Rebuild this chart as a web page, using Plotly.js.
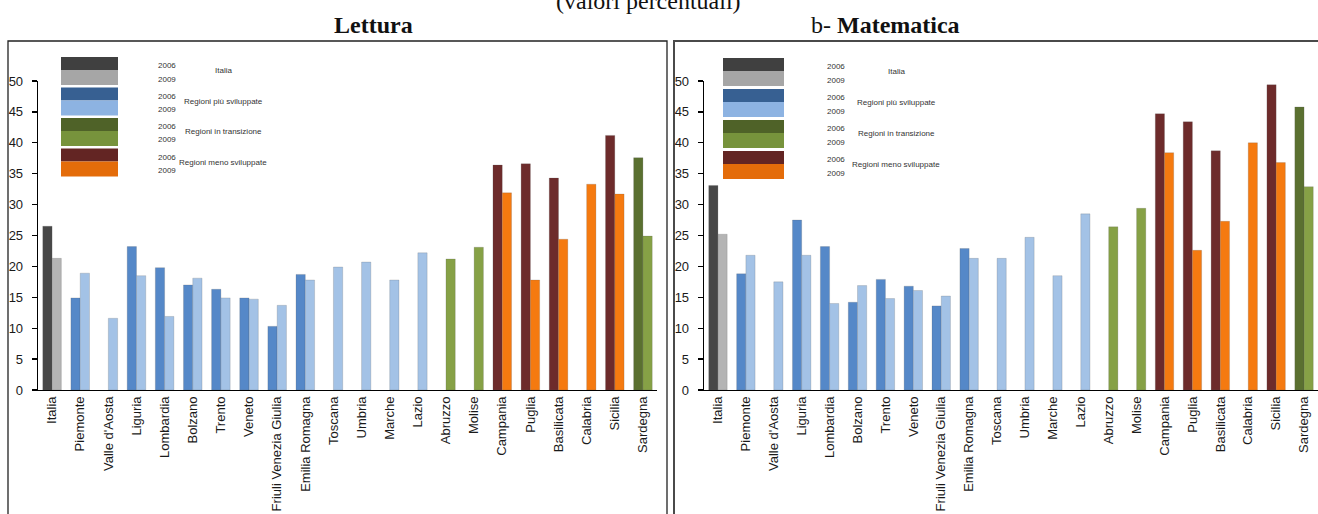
<!DOCTYPE html>
<html>
<head>
<meta charset="utf-8">
<script src="https://cdn.plot.ly/plotly-3.0.1.min.js"></script>
<style>
html,body{margin:0;padding:0;background:#fff;}
#chart{width:1318px;height:514px;}
</style>
</head>
<body>
<div id="chart"></div>
<script>
// ---------------- DATA ----------------
const regions = ["Italia","Piemonte","Valle d'Aosta","Liguria","Lombardia","Bolzano","Trento","Veneto",
  "Friuli Venezia Giulia","Emilia Romagna","Toscana","Umbria","Marche","Lazio","Abruzzo","Molise",
  "Campania","Puglia","Basilicata","Calabria","Sicilia","Sardegna"];
const regionGroups = ["IT","PS","PS","PS","PS","PS","PS","PS","PS","PS","PS","PS","PS","PS","TR","TR",
  "MS","MS","MS","MS","MS","TR"];
const lettura2006 = [26.5,14.9,null,23.2,19.8,17.0,16.3,14.9,10.3,18.7,null,null,null,null,null,null,36.4,36.6,34.3,null,41.2,37.6];
const lettura2009 = [21.3,18.9,11.6,18.5,11.9,18.1,14.9,14.7,13.7,17.8,19.9,20.7,17.8,22.2,21.2,23.1,31.9,17.8,24.4,33.3,31.7,24.9];
const matematica2006 = [33.1,18.8,null,27.5,23.2,14.2,17.9,16.8,13.6,22.9,null,null,null,null,null,null,44.7,43.4,38.7,null,49.4,45.8];
const matematica2009 = [25.2,21.8,17.5,21.8,14.0,16.9,14.8,16.1,15.2,21.3,21.3,24.7,18.5,28.5,26.4,29.4,38.4,22.6,27.3,40.0,36.8,32.9];
const legendKeys = ["IT","PS","TR","MS"];
const legendLabels = ["Italia","Regioni più sviluppate","Regioni in transizione","Regioni meno sviluppate"];
const years = ["2006","2009"];
const yTicks = [0,5,10,15,20,25,30,35,40,45,50];

// ---------------- STYLE ----------------
const barColors = {
  IT:{a:"#474747", b:"#b4b4b4"},
  PS:{a:"#5588c8", b:"#a3c2e6"},
  TR:{a:"#5a7030", b:"#86a146"},
  MS:{a:"#6d2b2b", b:"#f57a10"}
};
const legColors = {
  IT:{a:"#404040", b:"#a6a6a6"},
  PS:{a:"#376092", b:"#8db3e2"},
  TR:{a:"#4f6228", b:"#77933c"},
  MS:{a:"#632523", b:"#e46c0a"}
};
const W = 1318, H = 514;
const px = x => x / W;
const py = y => 1 - y / H;

function barTrace(vals, key, xa, ya, name){
  return {
    type:"bar", x:regions, y:vals, xaxis:xa, yaxis:ya, name:name, showlegend:false,
    marker:{color: regionGroups.map(g => barColors[g][key]), line:{width:0.6, color:"rgba(90,90,90,0.35)"}},
    hoverinfo:"x+y"
  };
}

const data = [
  barTrace(lettura2006, "a", "x", "y", "2006"),
  barTrace(lettura2009, "b", "x", "y", "2009"),
  barTrace(matematica2006, "a", "x2", "y2", "2006"),
  barTrace(matematica2009, "b", "x2", "y2", "2009")
];

const tickFont = {family:"Liberation Sans, Arial, sans-serif", size:13, color:"#1a1a1a"};
function xAxis(domain, anchor){
  return {domain:domain, anchor:anchor, type:"category", range:[-0.5, regions.length-0.5],
    showline:true, linecolor:"#000", linewidth:1.3, ticks:"", tickangle:-90,
    tickfont:tickFont, showgrid:false, zeroline:false, fixedrange:true, automargin:false};
}
function yAxis(domain, anchor){
  return {domain:domain, anchor:anchor, range:[0,50], tickvals:yTicks, showline:true, linecolor:"#000",
    linewidth:1.3, ticks:"outside", ticklen:5, tickwidth:1.3, tickcolor:"#000", tickfont:tickFont,
    ticklabelstandoff:6, showgrid:false, zeroline:false, fixedrange:true, automargin:false};
}
function yInner(overlay, anchor){
  return {overlaying:overlay, anchor:anchor, range:[0,50], tickvals:yTicks, showline:false,
    ticks:"inside", ticklen:5, tickwidth:1.3, tickcolor:"#000", showticklabels:false,
    showgrid:false, zeroline:false, fixedrange:true};
}
const yDom = [py(390), py(81)];

const shapes = [];
const annotations = [];

// panel frames
shapes.push({type:"rect", xref:"paper", yref:"paper", x0:px(8), x1:px(667), y0:py(530), y1:py(41),
  line:{color:"#222", width:1.3}, fillcolor:"rgba(0,0,0,0)", layer:"below"});
shapes.push({type:"rect", xref:"paper", yref:"paper", x0:px(674), x1:px(1330), y0:py(530), y1:py(41),
  line:{color:"#4a4a4a", width:2}, fillcolor:"rgba(0,0,0,0)", layer:"below"});

// legends (inset tables)
function addLegend(sx0, sx1, top0, spacing, yearX, labelX){
  legendKeys.forEach((k, i) => {
    const t = top0 + i*spacing;
    shapes.push({type:"rect", xref:"paper", yref:"paper", x0:px(sx0), x1:px(sx1), y0:py(t+13), y1:py(t),
      line:{width:0}, fillcolor:legColors[k].a});
    shapes.push({type:"rect", xref:"paper", yref:"paper", x0:px(sx0), x1:px(sx1), y0:py(t+28), y1:py(t+13),
      line:{width:0}, fillcolor:legColors[k].b});
    const lf = {family:"Liberation Sans, Arial, sans-serif", size:8, color:"#333"};
    annotations.push({xref:"paper", yref:"paper", x:px(yearX), y:py(t+8.5), xanchor:"left", yanchor:"middle",
      text:years[0], showarrow:false, font:lf});
    annotations.push({xref:"paper", yref:"paper", x:px(yearX), y:py(t+22), xanchor:"left", yanchor:"middle",
      text:years[1], showarrow:false, font:lf});
    annotations.push({xref:"paper", yref:"paper", x:px(labelX), y:py(t+13.8), xanchor:"center", yanchor:"middle",
      text:legendLabels[i], showarrow:false, font:lf});
  });
}
addLegend(61, 118, 57, 30.5, 156, 223);
addLegend(723, 784, 58, 31, 825, 896);

// titles
const serif = "Liberation Serif, Times New Roman, serif";
annotations.push({xref:"paper", yref:"paper", x:px(648), y:py(1), xanchor:"center", yanchor:"middle",
  text:"(valori percentuali)", showarrow:false, font:{family:serif, size:24, color:"#111"}});
annotations.push({xref:"paper", yref:"paper", x:px(373), y:py(25), xanchor:"center", yanchor:"middle",
  text:"<b>Lettura</b>", showarrow:false, font:{family:serif, size:24, color:"#111"}});
annotations.push({xref:"paper", yref:"paper", x:px(885), y:py(25), xanchor:"center", yanchor:"middle",
  text:"b- <b>Matematica</b>", showarrow:false, font:{family:serif, size:24, color:"#111"}});

const layout = {
  width:W, height:H, margin:{l:0, r:0, t:0, b:0},
  paper_bgcolor:"#fff", plot_bgcolor:"rgba(0,0,0,0)",
  barmode:"group", bargap:0.34, bargroupgap:0,
  showlegend:false,
  xaxis: xAxis([px(38), px(657)], "y"),
  yaxis: yAxis(yDom, "x"),
  xaxis2: xAxis([px(704), px(1318)], "y2"),
  yaxis2: yAxis(yDom, "x2"),
  yaxis3: yInner("y", "x"),
  yaxis4: yInner("y2", "x2"),
  shapes: shapes,
  annotations: annotations
};

Plotly.newPlot("chart", data, layout, {displayModeBar:false, staticPlot:true});
</script>
</body>
</html>
